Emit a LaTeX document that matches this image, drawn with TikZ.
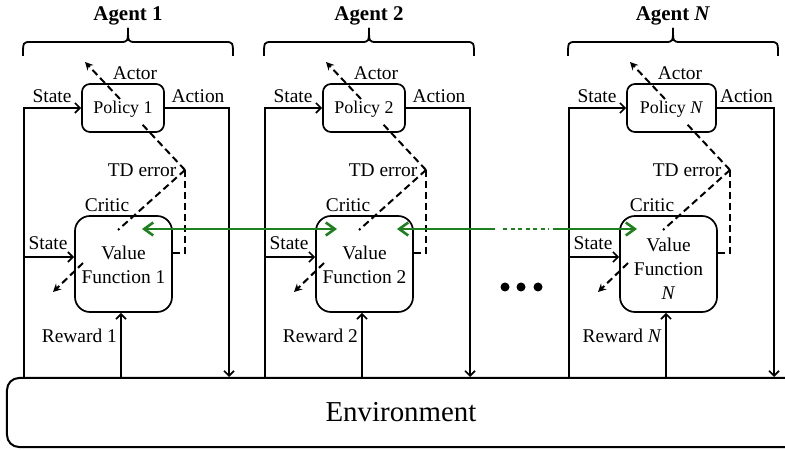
\documentclass[tikz,border=0pt]{standalone}
\usepackage{fontspec}
\setmainfont{Liberation Serif}
\usetikzlibrary{arrows.meta,calc}
\definecolor{grn}{RGB}{30,128,30}
\tikzset{
  btip/.tip={Straight Barb[length=5bp,width=10bp]},
  dtip/.tip={Stealth[length=8bp,width=8bp]},
  gtip/.tip={Straight Barb[length=9bp,width=13bp]},
  arr/.style={line width=1.7bp,-btip},
  pbox/.style={draw,line width=1.7bp,rounded corners=8bp,minimum height=48bp,fill=white,inner sep=0pt,
    text height=11.9bp,text depth=0pt,font=\fontsize{18}{20}\selectfont},
  vbox/.style={draw,line width=1.7bp,rounded corners=15bp,minimum width=97bp,minimum height=96bp,fill=white},
  lbl/.style={inner sep=0pt,text height=12.9bp,text depth=0pt,font=\fontsize{19.5}{22}\selectfont},
  vtext/.style={align=center,inner sep=0pt,font=\fontsize{19.5}{24}\selectfont},
  ttl/.style={inner sep=0pt,text height=14bp,text depth=0pt,font=\bfseries\fontsize{21}{23}\selectfont},
  dsh/.style={line width=2bp,dash pattern=on 7bp off 4bp},
  dar/.style={dsh,-dtip},
  brc/.style={line width=1.8bp},
  grnl/.style={draw=grn,line width=2.6bp},
  dotn/.style={circle,fill,inner sep=0pt,minimum size=9bp},
  envbox/.style={draw,line width=2bp,rounded corners=12bp,minimum width=803bp,minimum height=69bp,inner sep=0pt},
  envtext/.style={inner sep=0pt,font=\fontsize{29}{32}\selectfont}
}
% #1 id, #2 xshift, #3 title, #4 policy, #5 value text, #6 reward, #7 extra policy width, #8 value text y
\newcommand\drawagent[8]{%
\begin{scope}[xshift=#2bp]
\node[ttl] (ttl#1) at (128,14) {#3};
\draw[brc] (23,56) .. controls (23,42) .. (31,42) -- (120,42) .. controls (128,42) .. (128,28);
\draw[brc] (233,56) .. controls (233,42) .. (225,42) -- (136,42) .. controls (128,42) .. (128,28);
\coordinate (sx#1) at (24,0);
\coordinate (rx#1) at (121,0);
\coordinate (ax#1) at (229,0);
\coordinate (ls#1) at (24,257);
\coordinate (td#1) at (185,170);
\coordinate (pa#1) at (140,122);
\coordinate (pb#1) at (120,99);
\coordinate (pc#1) at (85,62);
\coordinate (va#1) at (118,230);
\coordinate (vb#1) at (83,263);
\coordinate (vc#1) at (53,292);
\node[pbox,minimum width={(82+#7)*1bp}] (p#1) at ({123+#7/2},108) {#4};
\node[vbox] (v#1) at (123.5,264) {};
\node[vtext] (vt#1) at (123.5,#8) {#5};
\draw[arr] (env.north -| sx#1) |- (p#1.west);
\draw[arr] (p#1.east) -| (env.north -| ax#1);
\draw[arr] (ls#1) -- (ls#1 -| v#1.west);
\draw[arr] (env.north -| rx#1) -- (v#1.south -| rx#1);
\draw[dsh] (td#1) -- (pa#1);
\draw[dar] (pb#1) -- (pc#1);
\draw[dsh] (td#1) -- (va#1);
\draw[dar] (vb#1) -- (vc#1);
\draw[dsh] (td#1) |- ($(v#1.east)+(0,-11)$);
\node[lbl] (actor#1) at (135,73) {Actor};
\node[lbl] (st#1) at (52,96) {State};
\node[lbl] (act#1) at ({198+#7/2},96) {Action};
\node[lbl] (tde#1) at (142,170) {TD error};
\node[lbl] (crit#1) at (107,205) {Critic};
\node[lbl] (stb#1) at (48,243) {State};
\node[lbl,anchor=east] (rew#1) at (117,336) {#6};
\end{scope}}
\begin{document}
\begin{tikzpicture}[x=1bp,y=-1bp]
\useasboundingbox (0,0) rectangle (785,450);
\clip (0,0) rectangle (785,450);
\node[envbox] (env) at (408.5,412.5) {};
\node[envtext] (envt) at (401,412) {Environment};
\drawagent{1}{0}{Agent 1}{Policy 1}{Value\\Function 1}{Reward 1}{0}{265}
\drawagent{2}{241}{Agent 2}{Policy 2}{Value\\Function 2}{Reward 2}{0}{265}
\drawagent{N}{545}{Agent \textit{N}}{Policy \textit{N}}{Value\\Function\\\textit{N}}{Reward \textit{N}}{7}{269}
\node[dotn] (dot1) at (505,287) {};
\node[dotn] (dot2) at (521,287) {};
\node[dotn] (dot3) at (538,287) {};
\coordinate (g1) at ($(v1)+(18.5,-35)$);
\coordinate (g2) at ($(v2)+(-27.5,-35)$);
\coordinate (g3) at ($(v2)+(32.5,-35)$);
\coordinate (g4) at (495,229);
\coordinate (g5) at (503,229);
\coordinate (g6) at (549,229);
\coordinate (g7) at (553,229);
\coordinate (g8) at ($(vN)+(-31.5,-35)$);
\draw[grnl,gtip-gtip] (g1) -- (g2);
\draw[grnl,gtip-] (g3) -- (g4);
\draw[grnl,dash pattern=on 4bp off 3.5bp] (g5) -- (g6);
\draw[grnl,-gtip] (g7) -- (g8);
\end{tikzpicture}
\end{document}
